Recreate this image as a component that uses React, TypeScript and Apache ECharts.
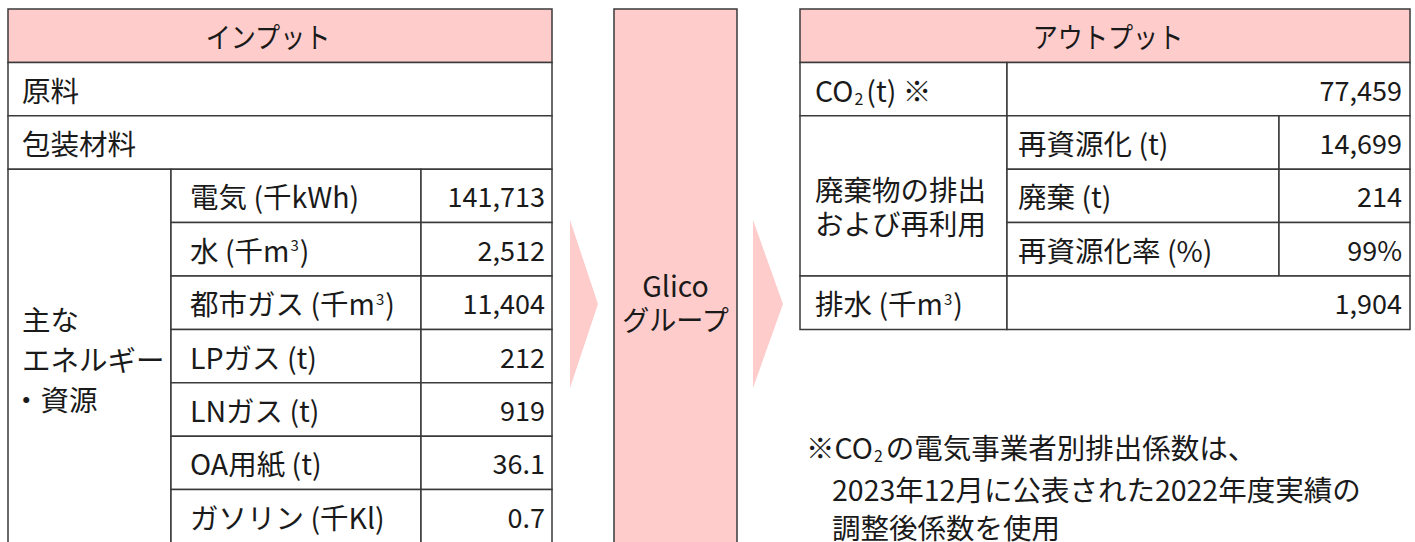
import React, { useEffect, useRef } from "react";
import * as echarts from "echarts";

const inputHeader = "インプット";
const inputSimpleRows = ["原料", "包装材料"];
const energyGroupLabel = ["主な", "エネルギー", "・資源"];
const energyLabels = ["電気 (千kWh)", "水 (千m³)", "都市ガス (千m³)", "LPガス (t)", "LNガス (t)", "OA用紙 (t)", "ガソリン (千Kl)"];
const energyValues = ["141,713", "2,512", "11,404", "212", "919", "36.1", "0.7"];
const centerLabel = ["Glico", "グループ"];
const outputHeader = "アウトプット";
const co2Label = "CO₂(t) ※";
const co2Value = "77,459";
const wasteGroupLabel = ["廃棄物の排出", "および再利用"];
const wasteLabels = ["再資源化 (t)", "廃棄 (t)", "再資源化率 (%)"];
const wasteValues = ["14,699", "214", "99%"];
const drainLabel = "排水 (千m³)";
const drainValue = "1,904";
const footnoteLines = ["※CO₂の電気事業者別排出係数は、", "2023年12月に公表された2022年度実績の", "調整後係数を使用"];

const FONT = '"Noto Sans CJK JP", "Noto Sans", sans-serif';
const FS = 28.5;
const VFS = 27;
const TXT = "#1a1a1a";
const LINE = "#3a3a3a";
const PINK = "#ffcccc";

const toRich = (s: string) =>
  s
    .split(/([³₂])/)
    .filter((p) => p.length > 0)
    .map((p) => (p === "³" ? "{sup|3}" : p === "₂" ? "{sub|2}" : `{n|${p}}`))
    .join("");

const RICH = {
  n: { fontSize: FS, fontFamily: FONT, fill: TXT, lineHeight: 34 },
  sup: { fontSize: 15, fontFamily: FONT, fill: TXT, lineHeight: 18, verticalAlign: "middle", padding: [0, 1, 9, 1] },
  sub: { fontSize: 16, fontFamily: FONT, fill: TXT, lineHeight: 22, verticalAlign: "bottom", padding: [0, 3, 0, 1] },
};

export default function App() {
  const ref = useRef<HTMLDivElement>(null);
  useEffect(() => {
    document.body.style.margin = "0";
    const chart = echarts.init(ref.current!, null, { renderer: "svg" });
    const els: any[] = [];
    const cell = (x0: number, y0: number, x1: number, y1: number, fill = "#fff") =>
      els.push({ type: "rect", shape: { x: x0, y: y0, width: x1 - x0, height: y1 - y0 }, style: { fill, stroke: LINE, lineWidth: 1.5 } });
    const text = (t: string, x: number, y: number, align = "left", el: any = {}) =>
      els.push({
        type: "text", x, y, ...el,
        style: { text: toRich(t), rich: RICH, fill: TXT, fontSize: FS, fontFamily: FONT, textAlign: align, textVerticalAlign: "middle" },
      });
    const multi = (lines: string[], x: number, y: number) =>
      els.push({
        type: "text", x, y,
        style: { text: lines.map(toRich).join("\n"), rich: RICH, fill: TXT, fontSize: FS, fontFamily: FONT, textAlign: "left", textVerticalAlign: "middle" },
      });
    const value = (t: string, x: number, y: number) =>
      els.push({ type: "text", x, y, style: { text: t, fill: TXT, fontSize: VFS, fontFamily: FONT, textAlign: "right", textVerticalAlign: "middle" } });

    const top = 9;
    const rh = 53.4;
    const rowY = (i: number) => top + i * rh;

    // arrows
    els.push({ type: "polygon", shape: { points: [[570, 220], [598, 304], [570, 388]] }, style: { fill: PINK } });
    els.push({ type: "polygon", shape: { points: [[753, 220], [783, 304], [753, 388]] }, style: { fill: PINK } });

    // left table
    const L0 = 8, L1 = 171, L2 = 421, L3 = 552;
    cell(L0, rowY(0), L3, rowY(1), PINK);
    text(inputHeader, 268, (rowY(0) + rowY(1)) / 2, "center", { scaleX: 0.88 });
    inputSimpleRows.forEach((r, i) => {
      cell(L0, rowY(1 + i), L3, rowY(2 + i));
      text(r, 22, (rowY(1 + i) + rowY(2 + i)) / 2);
    });
    cell(L0, rowY(3), L1, rowY(3 + energyLabels.length));
    energyGroupLabel.forEach((t, i) => text(t, i === 2 ? 12 : 22, 318 + i * 40));
    energyLabels.forEach((lab, i) => {
      const y0 = rowY(3 + i), y1 = rowY(4 + i);
      cell(L1, y0, L2, y1);
      cell(L2, y0, L3, y1);
      text(lab, 190, (y0 + y1) / 2);
      value(energyValues[i], 545, (y0 + y1) / 2);
    });

    // center box
    cell(614, top, 737, 560, PINK);
    text(centerLabel[0], 675.5, 284, "center");
    text(centerLabel[1], 675.5, 319, "center", { scaleX: 0.95 });

    // right table
    const R0 = 800, R1 = 1007, R2 = 1279, R3 = 1410;
    cell(R0, rowY(0), R3, rowY(1), PINK);
    text(outputHeader, 1108, (rowY(0) + rowY(1)) / 2, "center", { scaleX: 0.88 });
    cell(R0, rowY(1), R1, rowY(2));
    cell(R1, rowY(1), R3, rowY(2));
    text(co2Label, 815, (rowY(1) + rowY(2)) / 2);
    value(co2Value, 1402, (rowY(1) + rowY(2)) / 2);
    cell(R0, rowY(2), R1, rowY(2 + wasteLabels.length));
    multi(wasteGroupLabel, 815, 205);
    wasteLabels.forEach((lab, i) => {
      const y0 = rowY(2 + i), y1 = rowY(3 + i);
      cell(R1, y0, R2, y1);
      cell(R2, y0, R3, y1);
      text(lab, 1018, (y0 + y1) / 2);
      value(wasteValues[i], 1402, (y0 + y1) / 2);
    });
    const dy0 = rowY(5), dy1 = rowY(6);
    cell(R0, dy0, R1, dy1);
    cell(R1, dy0, R3, dy1);
    text(drainLabel, 815, (dy0 + dy1) / 2);
    value(drainValue, 1402, (dy0 + dy1) / 2);

    // footnote
    text(footnoteLines[0], 806, 446);
    text(footnoteLines[1], 832, 488);
    text(footnoteLines[2], 832, 526);

    chart.setOption({ animation: false, graphic: { elements: els } });
    return () => chart.dispose();
  }, []);
  return <div ref={ref} style={{ width: 1415, height: 542 }} />;
}
